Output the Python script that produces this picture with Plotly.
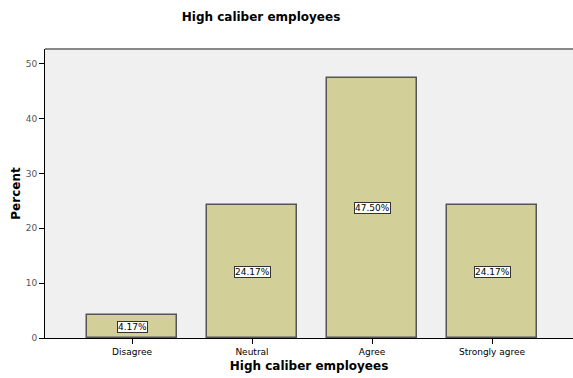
import plotly.graph_objects as go

categories = ["Disagree", "Neutral", "Agree", "Strongly agree"]
percent = [4.17, 24.17, 47.50, 24.17]
y_ticks = [0, 10, 20, 30, 40, 50]

font_family = "DejaVu Sans, Verdana, sans-serif"

fig = go.Figure()

fig.add_trace(go.Bar(
    x=list(range(len(categories))),
    y=percent,
    width=0.75,
    marker=dict(color="#D3CF98", line=dict(color="#555555", width=1.5)),
    hoverinfo="skip",
))

# value labels in white boxes at mid-height of each bar
for i, v in enumerate(percent):
    fig.add_annotation(
        x=i, y=v / 2, text=f"{v:.2f}%", showarrow=False,
        font=dict(family=font_family, size=9, color="#000000"),
        bgcolor="#FFFFFF", bordercolor="#333333", borderwidth=1, borderpad=0,
    )

fig.update_layout(
    width=573, height=378,
    margin=dict(l=45, r=0, t=49, b=40),
    paper_bgcolor="#FFFFFF",
    plot_bgcolor="#F0F0F0",
    showlegend=False,
    bargap=0,
    title=dict(text="<b>High caliber employees</b>", x=261 / 573, xanchor="center",
               y=1 - 17 / 378, yanchor="middle",
               font=dict(family=font_family, size=12, color="#000000")),
    font=dict(family=font_family, size=9, color="#000000"),
)

fig.update_xaxes(
    range=[-0.725, 3.675],
    tickmode="array", tickvals=list(range(len(categories))), ticktext=categories,
    ticks="outside", ticklen=5, tickcolor="#000000",
    showline=True, linecolor="#000000", linewidth=1,
    showgrid=False, zeroline=False,
    tickfont=dict(family=font_family, size=9, color="#000000"),
    title=dict(text="<b>High caliber employees</b>", standoff=5,
               font=dict(family=font_family, size=12, color="#000000")),
)

fig.update_yaxes(
    range=[0, 52.7],
    tickmode="array", tickvals=y_ticks,
    ticks="outside", ticklen=5, tickcolor="#000000",
    showline=True, linecolor="#000000", linewidth=1,
    showgrid=False, zeroline=False,
    tickfont=dict(family=font_family, size=9, color="#555555"),
    title=dict(text="<b>Percent</b>", standoff=2,
               font=dict(family=font_family, size=12, color="#000000")),
)

# grey frame line along the top of the plot area
fig.add_shape(type="line", xref="paper", yref="paper", x0=0, x1=1, y0=1, y1=1,
              line=dict(color="#888888", width=2))

fig.write_html("out.html")
